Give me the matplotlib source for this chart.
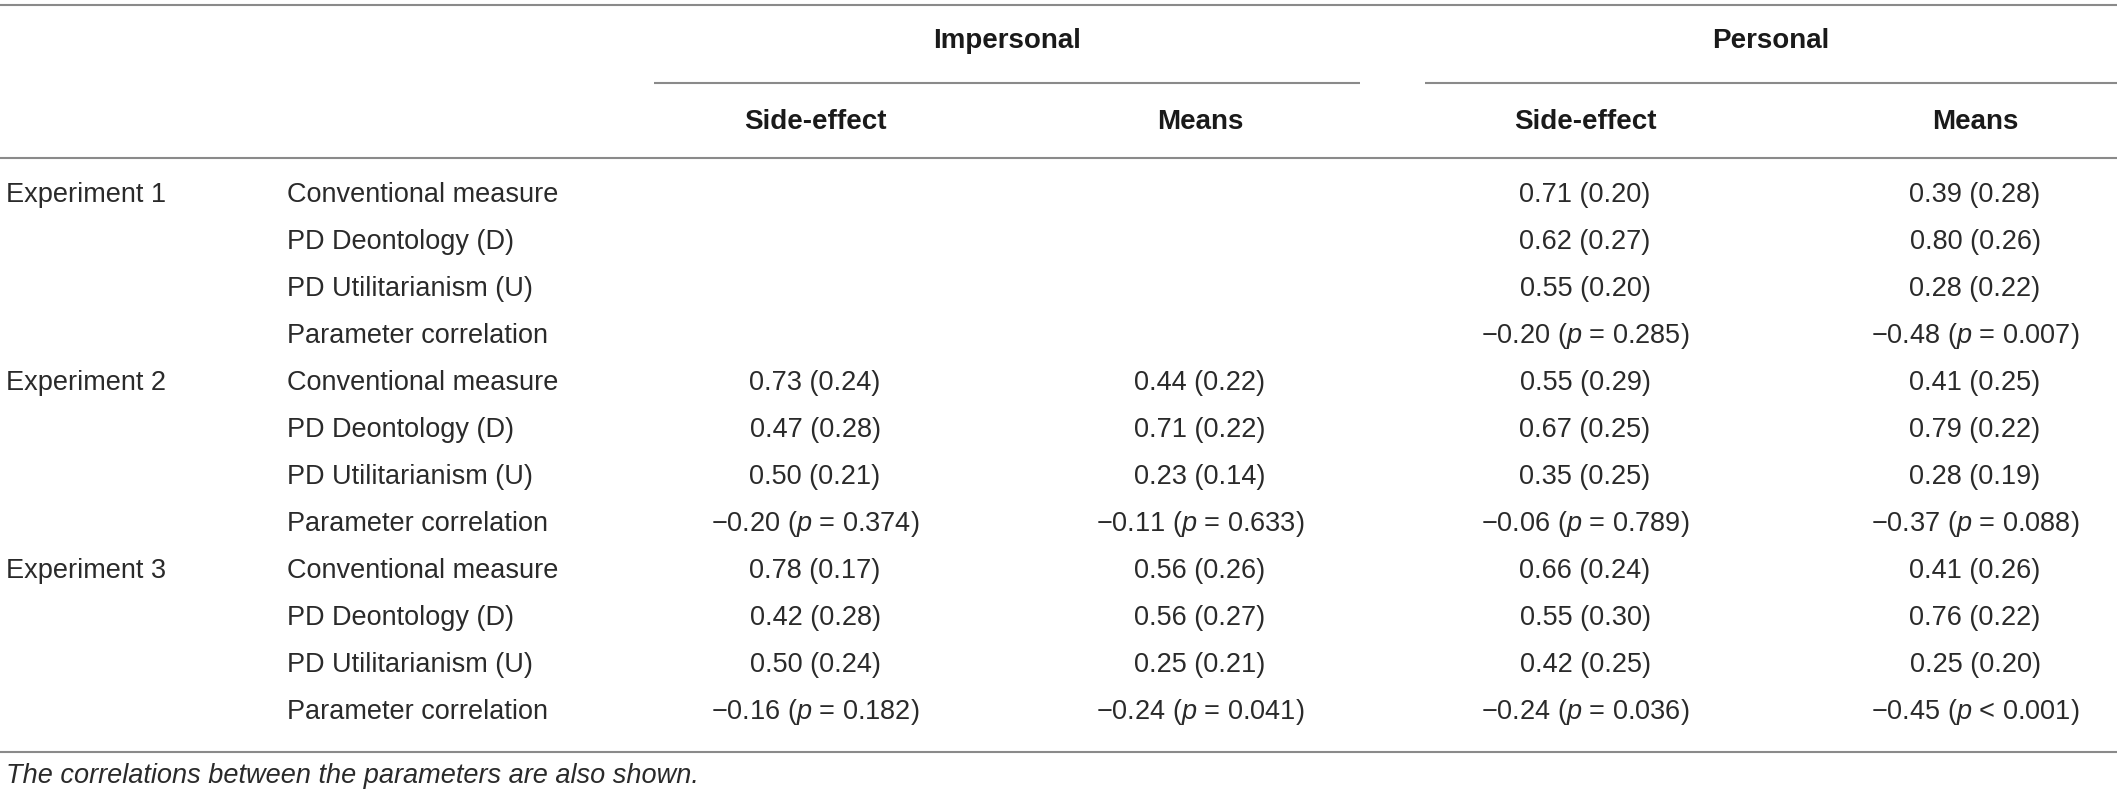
import matplotlib.pyplot as plt

plt.rcParams["font.family"] = ["Liberation Sans", "DejaVu Sans"]
plt.rcParams["mathtext.fontset"] = "custom"
plt.rcParams["mathtext.it"] = "Liberation Sans:italic"
plt.rcParams["mathtext.rm"] = "Liberation Sans"

## table data
groups = ["Impersonal", "Personal"]
columns = ["Side-effect", "Means", "Side-effect", "Means"]
experiments = ["Experiment 1", "Experiment 2", "Experiment 3"]
measures = ["Conventional measure", "PD Deontology (D)", "PD Utilitarianism (U)", "Parameter correlation"]

# mean (sd) for conventional, D, U ; None = not tested
imp_side_mean = [None, [0.73, 0.47, 0.50], [0.78, 0.42, 0.50]]
imp_side_sd = [None, [0.24, 0.28, 0.21], [0.17, 0.28, 0.24]]
imp_means_mean = [None, [0.44, 0.71, 0.23], [0.56, 0.56, 0.25]]
imp_means_sd = [None, [0.22, 0.22, 0.14], [0.26, 0.27, 0.21]]
pers_side_mean = [[0.71, 0.62, 0.55], [0.55, 0.67, 0.35], [0.66, 0.55, 0.42]]
pers_side_sd = [[0.20, 0.27, 0.20], [0.29, 0.25, 0.25], [0.24, 0.30, 0.25]]
pers_means_mean = [[0.39, 0.80, 0.28], [0.41, 0.79, 0.28], [0.41, 0.76, 0.25]]
pers_means_sd = [[0.28, 0.26, 0.22], [0.25, 0.22, 0.19], [0.26, 0.22, 0.20]]

# parameter correlation r and p
imp_side_r = [None, -0.20, -0.16]
imp_side_p = [None, "= 0.374", "= 0.182"]
imp_means_r = [None, -0.11, -0.24]
imp_means_p = [None, "= 0.633", "= 0.041"]
pers_side_r = [-0.20, -0.06, -0.24]
pers_side_p = ["= 0.285", "= 0.789", "= 0.036"]
pers_means_r = [-0.48, -0.37, -0.45]
pers_means_p = ["= 0.007", "= 0.088", "< 0.001"]

footnote = "The correlations between the parameters are also shown."

col_means = [imp_side_mean, imp_means_mean, pers_side_mean, pers_means_mean]
col_sds = [imp_side_sd, imp_means_sd, pers_side_sd, pers_means_sd]
col_r = [imp_side_r, imp_means_r, pers_side_r, pers_means_r]
col_p = [imp_side_p, imp_means_p, pers_side_p, pers_means_p]

W, H = 2117, 799
fig = plt.figure(figsize=(W / 100, H / 100), dpi=100)
ax = fig.add_axes([0, 0, 1, 1])
ax.set_xlim(0, W)
ax.set_ylim(H, 0)
ax.axis("off")

txt_col = "#2a2a2a"
line_col = "#8a8a8a"
body_fs = 19.5
head_fs = 20

col_x = [815, 1200, 1585, 1975]
group_x = [1007, 1771]
row0 = 195
row_h = 47

# rules
ax.hlines([5, 158, 752], 0, W, color=line_col, lw=1.5)
ax.hlines(83, 654, 1360, color=line_col, lw=1.5)
ax.hlines(83, 1425, W, color=line_col, lw=1.5)

# headers
for g, gx in zip(groups, group_x):
    ax.text(gx, 41, g, ha="center", va="center", fontsize=head_fs, fontweight="bold", color="#1a1a1a")
for c, cx in zip(columns, col_x):
    ax.text(cx, 122, c, ha="center", va="center", fontsize=head_fs, fontweight="bold", color="#1a1a1a")

# body
for i, exp in enumerate(experiments):
    y0 = row0 + i * 4 * row_h
    ax.text(6, y0, exp, ha="left", va="center", fontsize=body_fs, color=txt_col)
    for j, m in enumerate(measures):
        ax.text(287, y0 + j * row_h, m, ha="left", va="center", fontsize=body_fs, color=txt_col)
    for k in range(4):
        if col_means[k][i] is None:
            continue
        for j in range(3):
            s = f"{col_means[k][i][j]:.2f} ({col_sds[k][i][j]:.2f})"
            ax.text(col_x[k], y0 + j * row_h, s, ha="center", va="center", fontsize=body_fs, color=txt_col)
        r = col_r[k][i]
        s = "\u2212" + f"{abs(r):.2f}" + " ($p$ " + col_p[k][i] + ")"
        ax.text(col_x[k], y0 + 3 * row_h, s, ha="center", va="center", fontsize=body_fs, color=txt_col)

ax.text(6, 776, footnote, ha="left", va="center", fontsize=body_fs, style="italic", color=txt_col)

fig.savefig("out.png", dpi=100)
